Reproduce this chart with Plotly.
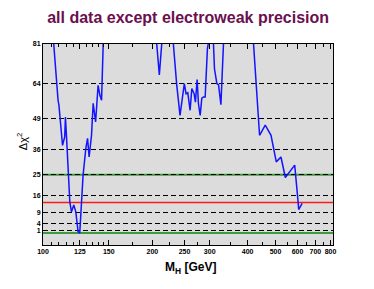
import plotly.graph_objects as go

# ---- data ----
mass_gev = [106.6, 107.9, 109.4, 110.0, 111.7, 112.4, 113.9, 114.4, 115.1, 116.3, 117.5, 118.7,
            120.4, 121.9, 123.6, 124.9, 126.2, 127.5, 129.7, 131.1, 132.4, 134.4, 135.8, 137.9,
            140.1, 141.7, 143.2, 144.7, None,
            206.0, 209.7, 213.2, None,
            231.1, 236.7, 242.2, 246.1, 249.7, 252.8, 255.9, 260.2, 263.4, 267.8, 270.3, 273.7,
            276.3, 279.8, 283.2, 286.6, 290.2, 295.0, 296.7, None,
            308.5, 310.8, 316.4, 320.3, 326.1, 332.4, None,
            419.0, 432.5, 439.5, 459.9, 481.8, 502.9, 522.6, 541.8, 586.0, 603.0, 606.0, 624.0]
delta_chi2 = [81.0, 67.5, 56.9, 54.7, 41.9, 37.6, 41.2, 49.7, 41.9, 24.8, 13.4, 9.1,
              12.0, 9.1, 0.6, 0.0, 10.7, 24.8, 36.3, 40.6, 32.6, 41.9, 55.6, 47.6,
              63.3, 59.0, 56.9, 81.0, None,
              81.0, 67.8, 81.0, None,
              81.0, 63.3, 50.4, 56.9, 64.0, 59.7, 60.1, 52.6, 61.9, 59.7, 56.1, 65.8,
              55.4, 50.4, 57.8, 58.3, 58.3, 78.9, 81.0, None,
              81.0, 70.4, 64.0, 63.6, 55.0, 81.0, None,
              81.0, 56.9, 41.9, 46.2, 41.9, 30.5, 32.6, 23.8, 29.1, 13.4, 10.1, 12.7]

x_tick_values = [100, 125, 150, 200, 250, 300, 400, 500, 600, 700, 800]
x_minor_values = [105, 110, 115, 120, 130, 135, 140, 145, 175, 225, 275, 350, 450, 550, 650, 750]
y_tick_values = [1, 4, 9, 16, 25, 36, 49, 64, 81]
green_levels = [0, 25]
red_levels = [13.1]
x_limits = [100, 818]
y_limits = [-5.1, 81]


def fx(m):
    """power-law mass scale used by the original axis"""
    return None if m is None else -(m ** -0.2)


fig = go.Figure()
fig.add_trace(go.Scatter(
    x=[fx(m) for m in mass_gev], y=delta_chi2, mode="lines",
    line=dict(color="#1414ff", width=1.5), connectgaps=False, showlegend=False,
    hoverinfo="skip"))

for lv in green_levels:
    fig.add_shape(type="line", xref="paper", x0=0, x1=1, yref="y", y0=lv, y1=lv,
                  line=dict(color="#3c9a3c", width=2), layer="below")
for lv in red_levels:
    fig.add_shape(type="line", xref="paper", x0=0, x1=1, yref="y", y0=lv, y1=lv,
                  line=dict(color="#ff1a1a", width=1.5), layer="below")

FONT = "Liberation Sans, Arial, Helvetica, sans-serif"

fig.update_layout(
    width=374, height=289,
    margin=dict(l=43, r=41, t=44, b=44),
    paper_bgcolor="white", plot_bgcolor="#dcdcdc",
    font=dict(family=FONT, color="black"),
    title=dict(text="<b>all data except electroweak precision</b>",
               font=dict(family=FONT, size=16, color="#6b0f4f"),
               x=0.503, xanchor="center", y=1 - 17 / 289, yanchor="middle"),
    xaxis=dict(
        range=[fx(x_limits[0]), fx(x_limits[1])],
        tickvals=[fx(v) for v in x_tick_values],
        ticktext=["<b>%d</b>" % v for v in x_tick_values],
        tickfont=dict(family=FONT, size=7, color="black"),
        ticks="inside", ticklen=5, tickwidth=1, tickcolor="black",
        minor=dict(tickvals=[fx(v) for v in x_minor_values], ticks="inside",
                   ticklen=3, tickwidth=1, tickcolor="black", showgrid=False),
        showline=True, linecolor="black", linewidth=1, mirror="allticks",
        showgrid=False, zeroline=False),
    yaxis=dict(
        range=y_limits,
        tickvals=y_tick_values,
        ticktext=["<b>%d</b>" % v for v in y_tick_values],
        tickfont=dict(family=FONT, size=7, color="black"),
        ticks="", showline=True, linecolor="black", linewidth=1, mirror=True,
        showgrid=True, gridcolor="black", gridwidth=1, griddash="5px,3px",
        zeroline=False),
    annotations=[
        dict(text="<b>M<sub>H</sub> [GeV]</b>", xref="paper", yref="paper",
             x=0.51, y=-0.114, xanchor="center", yanchor="middle", showarrow=False,
             font=dict(family=FONT, size=12, color="black")),
        dict(text="Δχ<sup>2</sup>", xref="paper", yref="paper",
             x=-0.07, y=0.515, xanchor="center", yanchor="middle", showarrow=False,
             textangle=-90, font=dict(family=FONT, size=11, color="black")),
    ],
)

fig.write_html("out.html", config={"displayModeBar": False},
               post_script="document.body.style.margin='0px';")
